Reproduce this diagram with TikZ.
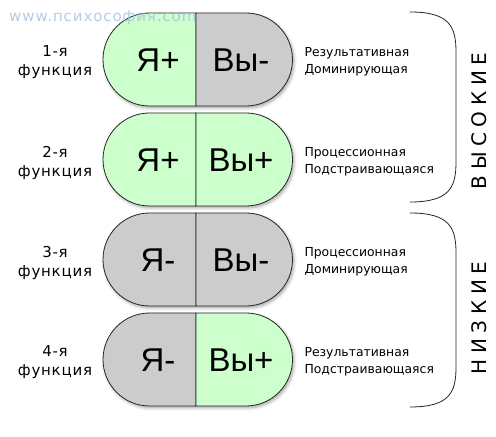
\documentclass[tikz,border=0pt]{standalone}
\usepackage{fontspec}
\setmainfont{DejaVu Sans}
\newfontfamily\pillfont{Liberation Sans}
\usetikzlibrary{shadows.blur}
\definecolor{pillgreen}{RGB}{204,255,204}
\definecolor{pillgray}{RGB}{204,204,204}
\definecolor{siteblue}{RGB}{165,195,228}
\tikzset{>=latex}
\tikzset{
  half/.style={draw=black!85, line width=0.8pt},
  pilltext/.style={font=\pillfont\fontsize{33}{33}\selectfont, inner sep=0pt},
  numtext/.style={align=center, font=\fontsize{15}{19}\selectfont\addfontfeature{LetterSpace=5}},
  roletext/.style={align=left, anchor=west, font=\fontsize{12.4}{17}\selectfont},
  grouptext/.style={rotate=90, font=\fontsize{20}{20}\selectfont\addfontfeature{LetterSpace=28}},
  bracket/.style={draw=black!85, line width=0.8pt},
}

\begin{document}
\begin{tikzpicture}[x=1pt, y=1pt]
  \useasboundingbox (0,0) rectangle (496,437);
  % four functions
  \foreach \i/\lc/\rc/\lt/\rt/\ra/\rb in {
      1/pillgreen/pillgray/Я+/Вы-/Результативная/Доминирующая,
      2/pillgreen/pillgreen/Я+/Вы+/Процессионная/Подстраивающаяся,
      3/pillgray/pillgray/Я-/Вы-/Процессионная/Доминирующая,
      4/pillgray/pillgreen/Я-/Вы+/Результативная/Подстраивающаяся}{
    \pgfmathsetmacro{\cy}{437-59.5-100*(\i-1)}
    \path[fill=white, blur shadow={shadow xshift=1.5pt, shadow yshift=-2pt,
        shadow blur radius=3pt, shadow opacity=35}]
      (149.5,\cy+46.5) -- (246,\cy+46.5) arc[start angle=90, end angle=-90, radius=46.5]
      -- (149.5,\cy-46.5) arc[start angle=270, end angle=90, radius=46.5] -- cycle;
    \filldraw[half, fill=\lc] (196,\cy+46.5) -- (149.5,\cy+46.5)
      arc[start angle=90, end angle=270, radius=46.5] -- (196,\cy-46.5) -- cycle;
    \filldraw[half, fill=\rc] (196,\cy-46.5) -- (246,\cy-46.5)
      arc[start angle=-90, end angle=90, radius=46.5] -- (196,\cy+46.5) -- cycle;
    \node[pilltext] (ya\i) at (158,\cy-1) {\lt};
    \node[pilltext] (vy\i) at (241,\cy-1) {\rt};
    \node[numtext] (num\i) at (55,\cy-3) {\i-я\\функция};
    \node[roletext] (role\i) at (301,\cy-2) {\ra\\\rb};
  }
  % groups
  \draw[bracket] (410,425) .. controls (450,425) and (456,410) .. (456,385)
    -- (456,275) .. controls (456,250) and (450,235) .. (410,235);
  \draw[bracket] (410,224) .. controls (450,224) and (456,209) .. (456,184)
    -- (456,70) .. controls (456,45) and (450,30) .. (410,30);
  \node[grouptext] (high) at (479,316) {ВЫСОКИЕ};
  \node[grouptext] (low) at (479,119) {НИЗКИЕ};
  % site
  \node[anchor=west, text=siteblue, opacity=0.85, inner sep=0pt,
    font=\fontsize{15}{15}\selectfont\addfontfeature{LetterSpace=6}] (site) at (9,419) {www.психософия.com};
\end{tikzpicture}
\end{document}
